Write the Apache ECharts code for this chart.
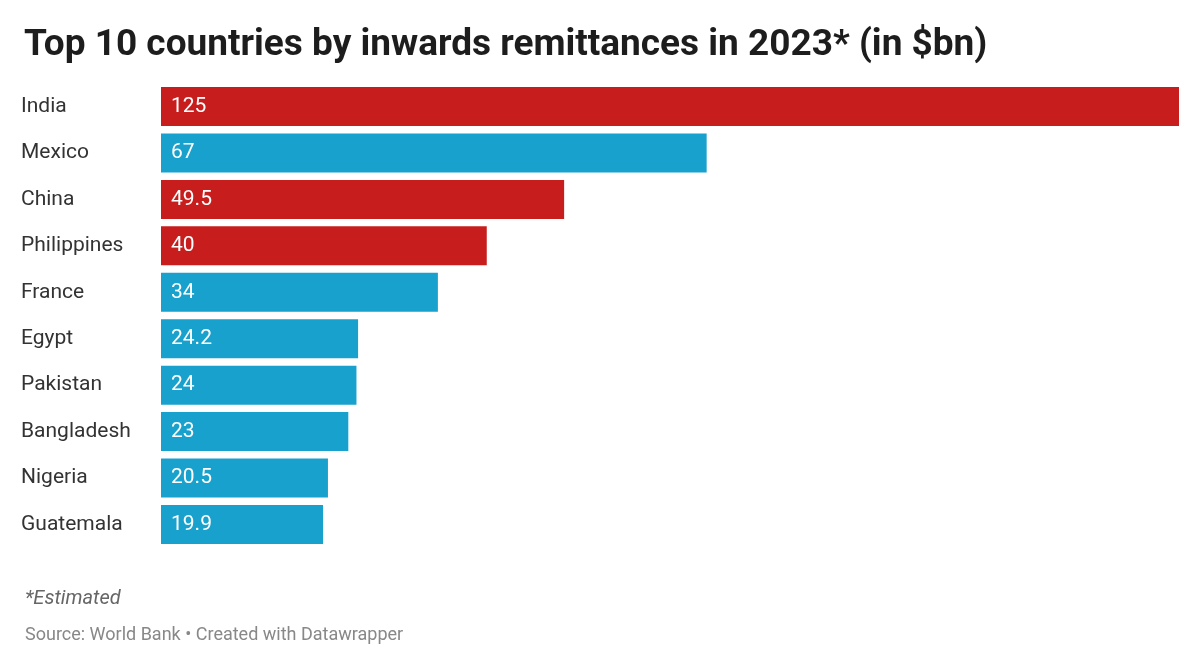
<!DOCTYPE html>
<html><head><meta charset="utf-8">
<script src="https://cdn.jsdelivr.net/npm/echarts@6/dist/echarts.min.js"></script>
<style>html,body{margin:0;padding:0;background:#fff}#c{width:1200px;height:664px}</style>
</head><body><div id="c"></div>
<script>
var countries = ['India','Mexico','China','Philippines','France','Egypt','Pakistan','Bangladesh','Nigeria','Guatemala'];
var values = [125,67,49.5,40,34,24.2,24,23,20.5,19.9];
var highlight = ['India','China','Philippines'];

var chart = echarts.init(document.getElementById('c'));
chart.setOption({
	animation:false,
	title:[
		{text:'Top 10 countries by inwards remittances in 2023* (in $bn)',left:19,top:22,
			textStyle:{fontFamily:'Roboto',fontWeight:'bold',fontSize:37,color:'#1d1d1d'}},
		{text:'*Estimated',left:20,top:584,
			textStyle:{fontFamily:'Roboto',fontStyle:'italic',fontWeight:'normal',fontSize:20,color:'#666'}},
		{text:'Source: World Bank • Created with Datawrapper',left:20,top:621,
			textStyle:{fontFamily:'Roboto',fontWeight:'normal',fontSize:18,color:'#888'}}
	],
	grid:{left:161,right:21,top:83.4,bottom:116.4},
	xAxis:{type:'value',min:0,max:125,show:false},
	yAxis:{type:'category',inverse:true,data:countries,
		axisLine:{show:false},axisTick:{show:false},
		axisLabel:{align:'left',margin:140,fontFamily:'Roboto',fontSize:21,color:'#333'}},
	series:[{type:'bar',barCategoryGap:'16%',
		data:values.map(function(v,i){
			return {value:v,itemStyle:{color:highlight.indexOf(countries[i])>=0?'#c71e1d':'#18a1cd'}};
		}),
		label:{show:true,position:'insideLeft',distance:10,color:'#fff',fontFamily:'Roboto',fontSize:21}
	}]
});
</script></body></html>
